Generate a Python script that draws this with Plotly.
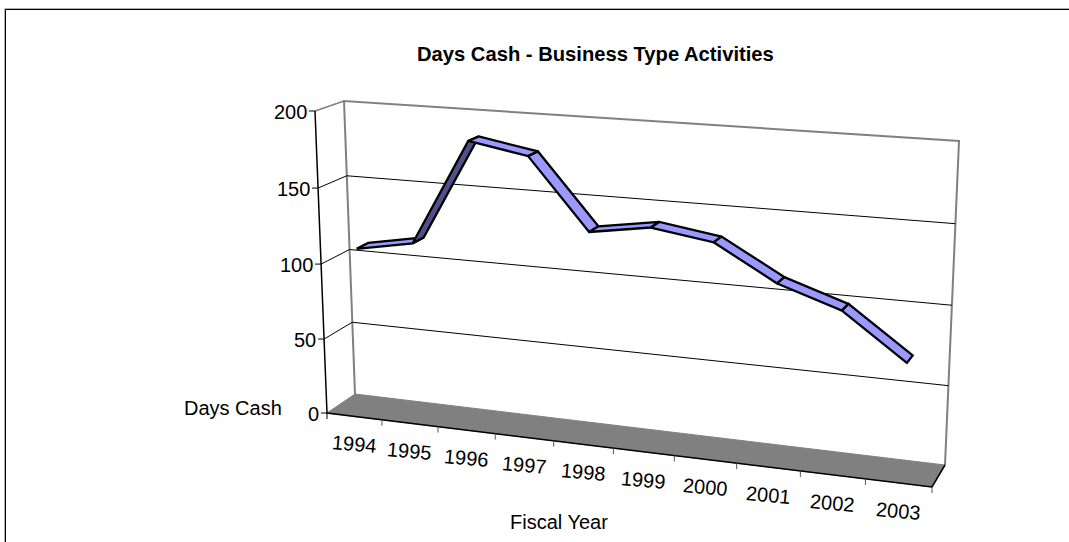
import plotly.graph_objects as go

years = ["1994", "1995", "1996", "1997", "1998", "1999", "2000", "2001", "2002", "2003"]
days_cash = [109, 116, 185, 178, 133, 139, 133, 111, 98, 70]
value_ticks = [0, 50, 100, 150, 200]
title_text = "Days Cash - Business Type Activities"
y_title = "Days Cash"
x_title = "Fiscal Year"

# Screen positions of the 3D box corners: (across, up, deep)
CORNERS = {
    (0, 0, 0): (327, 413), (1, 0, 0): (932, 487),
    (0, 1, 0): (315, 111), (1, 1, 0): (946, 151),
    (0, 0, 1): (355, 394), (1, 0, 1): (945, 465),
    (0, 1, 1): (344, 101), (1, 1, 1): (959, 141),
}
PERSPECTIVE_X = 1.1125
PERSPECTIVE_Y = 1.028
VMAX = 200.0
W_FRONT, W_BACK = 0.29, 0.71

def proj(u, value, w):
    """Projects category fraction u, a value and a depth fraction w to the page."""
    up = u / (u + PERSPECTIVE_X * (1 - u))
    vv = value / VMAX
    v = vv / (vv + PERSPECTIVE_Y * (1 - vv))
    px = py = 0.0
    for a, fa in ((0, 1 - up), (1, up)):
        for b, fb in ((0, 1 - v), (1, v)):
            for c, fc in ((0, 1 - w), (1, w)):
                cx, cy = CORNERS[(a, b, c)]
                f = fa * fb * fc
                px += f * cx
                py += f * cy
    return px, py

fig = go.Figure()

def poly(points, fill=None, line="black", width=1.0, name=None):
    xs = [p[0] for p in points]
    ys = [p[1] for p in points]
    fig.add_trace(go.Scatter(
        x=xs, y=ys, mode="lines", name=name or "", showlegend=False, hoverinfo="skip",
        fill="toself" if fill else "none", fillcolor=fill,
        line=dict(color=line, width=width, simplify=False),
    ))

# floor
poly([proj(0, 0, 0), proj(1, 0, 0), proj(1, 0, 1), proj(0, 0, 1), proj(0, 0, 0)],
     fill="#808080", line="#808080", width=1)
# walls
poly([proj(0, 0, 1), proj(0, VMAX, 1), proj(1, VMAX, 1), proj(1, 0, 1)], line="#808080", width=2)
poly([proj(0, VMAX, 0), proj(0, VMAX, 1)], line="#808080", width=1.5)
# gridlines
for t in value_ticks[1:-1]:
    poly([proj(0, t, 0), proj(0, t, 1), proj(1, t, 1)], line="black", width=1)
# axes
poly([proj(0, VMAX, 0), proj(0, 0, 0), proj(1, 0, 0), proj(1, 0, 1)], line="black", width=1.5)
for t in value_ticks:
    x, y = proj(0, t, 0)
    poly([(x - 6, y), (x, y)], line="black", width=1)
for i in range(len(years) + 1):
    x, y = proj(i / len(years), 0, 0)
    poly([(x, y), (x, y + 6)], line="#555555" if i else "black", width=1)

# ribbon
n = len(years)
for i in range(n - 1):
    u0, u1 = (i + 0.5) / n, (i + 1.5) / n
    a = proj(u0, days_cash[i], W_FRONT)
    b = proj(u1, days_cash[i + 1], W_FRONT)
    c = proj(u1, days_cash[i + 1], W_BACK)
    d = proj(u0, days_cash[i], W_BACK)
    cross = (b[0] - a[0]) * (d[1] - a[1]) - (b[1] - a[1]) * (d[0] - a[0])
    poly([a, b, c, d, a], fill="#50508A" if cross > 0 else "#9999FF", line="black", width=2.3,
         name=years[i])

annotations = []
def text(x, y, s, size=20, bold=False, angle=0, anchor="center"):
    annotations.append(dict(
        x=x, y=y, xref="x", yref="y", text=f"<b>{s}</b>" if bold else s, showarrow=False,
        textangle=angle, xanchor=anchor, yanchor="middle",
        font=dict(family="Liberation Sans", size=size, color="black"),
    ))

for t in value_ticks:
    x, y = proj(0, t, 0)
    text(x - 6, y + 1, str(t), anchor="right")
for i, yr in enumerate(years):
    x, y = proj((i + 0.5) / n, 0, 0)
    text(x, y + 28, yr, angle=5)
text(595, 54, title_text, size=20.2, bold=True)
text(233, 408, y_title)
text(559, 522, x_title)

def frame(offset, color):
    return [dict(type="line", xref="x", yref="y", x0=5.5 - offset, y0=9.5 - offset, x1=5.5 - offset, y1=542,
                 line=dict(color=color, width=1)),
            dict(type="line", xref="x", yref="y", x0=5.5 - offset, y0=9.5 - offset, x1=1069, y1=9.5 - offset,
                 line=dict(color=color, width=1))]

fig.update_layout(
    width=1069, height=542, margin=dict(l=0, r=0, t=0, b=0),
    paper_bgcolor="white", plot_bgcolor="white", showlegend=False,
    xaxis=dict(range=[0, 1069], visible=False, fixedrange=True),
    yaxis=dict(range=[542, 0], visible=False, fixedrange=True),
    annotations=annotations,
    shapes=frame(1, "#B0B0B0") + frame(0, "black"),
)
fig.write_html("out.html", config=dict(displayModeBar=False),
               post_script="document.body.style.margin='0';document.body.style.overflow='hidden';")
